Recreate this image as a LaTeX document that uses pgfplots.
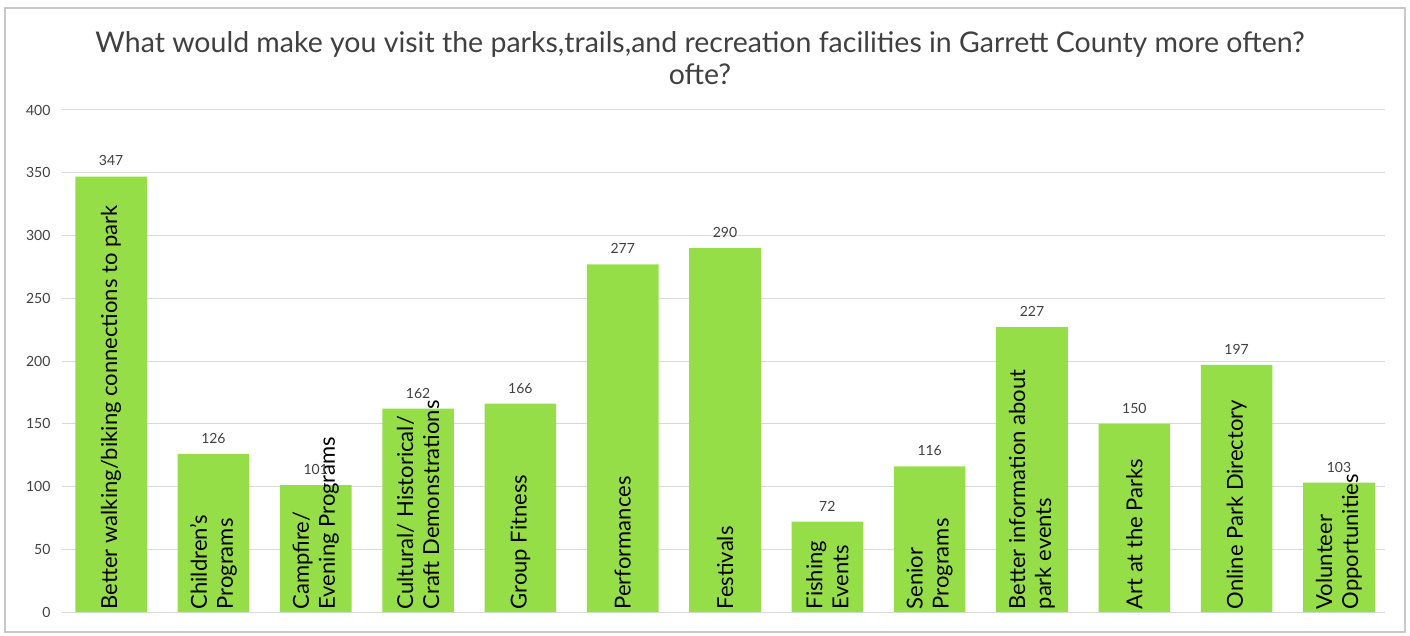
\documentclass[border=0pt]{standalone}
\usepackage{pgfplots}
\pgfplotsset{compat=1.18}
\usepackage{fontspec}
\setmainfont{Lato}
\definecolor{bargreen}{RGB}{150,222,72}
\definecolor{gridgrey}{RGB}{217,217,217}
\definecolor{framegrey}{RGB}{200,200,200}
\definecolor{txtgrey}{RGB}{64,64,64}
\tikzset{barlab/.style={rotate=90, anchor=west, align=left, inner sep=0pt,
    font=\fontsize{22}{26}\selectfont, text=black}}
\begin{document}
\begin{tikzpicture}[x=1pt,y=1pt]
\useasboundingbox (0,0) rectangle (1410,635);
\draw[framegrey, line width=1.5pt] (5,3) rectangle (1405,627);
\node[align=center, text=txtgrey, font=\fontsize{28.5}{32}\selectfont] at (700,577)
  {What would make you visit the parks,trails,and recreation facilities in Garrett County more often?\\ ofte?};
\begin{axis}[
  at={(62pt,23pt)}, anchor=south west,
  width=1323pt, height=502pt, scale only axis,
  clip=false,
  xmin=-0.48, xmax=12.45, ymin=0, ymax=400,
  ytick={0,50,...,400},
  ymajorgrids, grid style={gridgrey, line width=1pt},
  axis line style={draw=none},
  major tick length=0pt,
  /pgf/number format/assume math mode=true,
  yticklabel style={font=\fontsize{14}{14}\selectfont, text=txtgrey, xshift=-8pt},
  xtick=\empty,
  nodes near coords style={font=\fontsize{14}{14}\selectfont, text=txtgrey, yshift=7pt},
]
\addplot[ybar, fill=bargreen, draw=none, bar width=0.70, nodes near coords]
  coordinates {(0,347) (1,126) (2,101) (3,162) (4,166) (5,277) (6,290)
               (7,72) (8,116) (9,227) (10,150) (11,197) (12,103)};
\node[barlab] at (axis cs:0,2) {Better walking/biking connections to park};
\node[barlab] at (axis cs:1,2) {Children's\\Programs};
\node[barlab] at (axis cs:2,2) {Campfire/\\Evening Programs};
\node[barlab] at (axis cs:3,2) {Cultural/ Historical/\\Craft Demonstrations};
\node[barlab] at (axis cs:4,2) {Group Fitness};
\node[barlab] at (axis cs:5,2) {Performances};
\node[barlab] at (axis cs:6,2) {Festivals};
\node[barlab] at (axis cs:7,2) {Fishing\\Events};
\node[barlab] at (axis cs:8,2) {Senior\\Programs};
\node[barlab] at (axis cs:9,2) {Better information about\\park events};
\node[barlab] at (axis cs:10,2) {Art at the Parks};
\node[barlab] at (axis cs:11,2) {Online Park Directory};
\node[barlab] at (axis cs:12,2) {Volunteer\\Opportunities};
\end{axis}
\end{tikzpicture}
\end{document}
